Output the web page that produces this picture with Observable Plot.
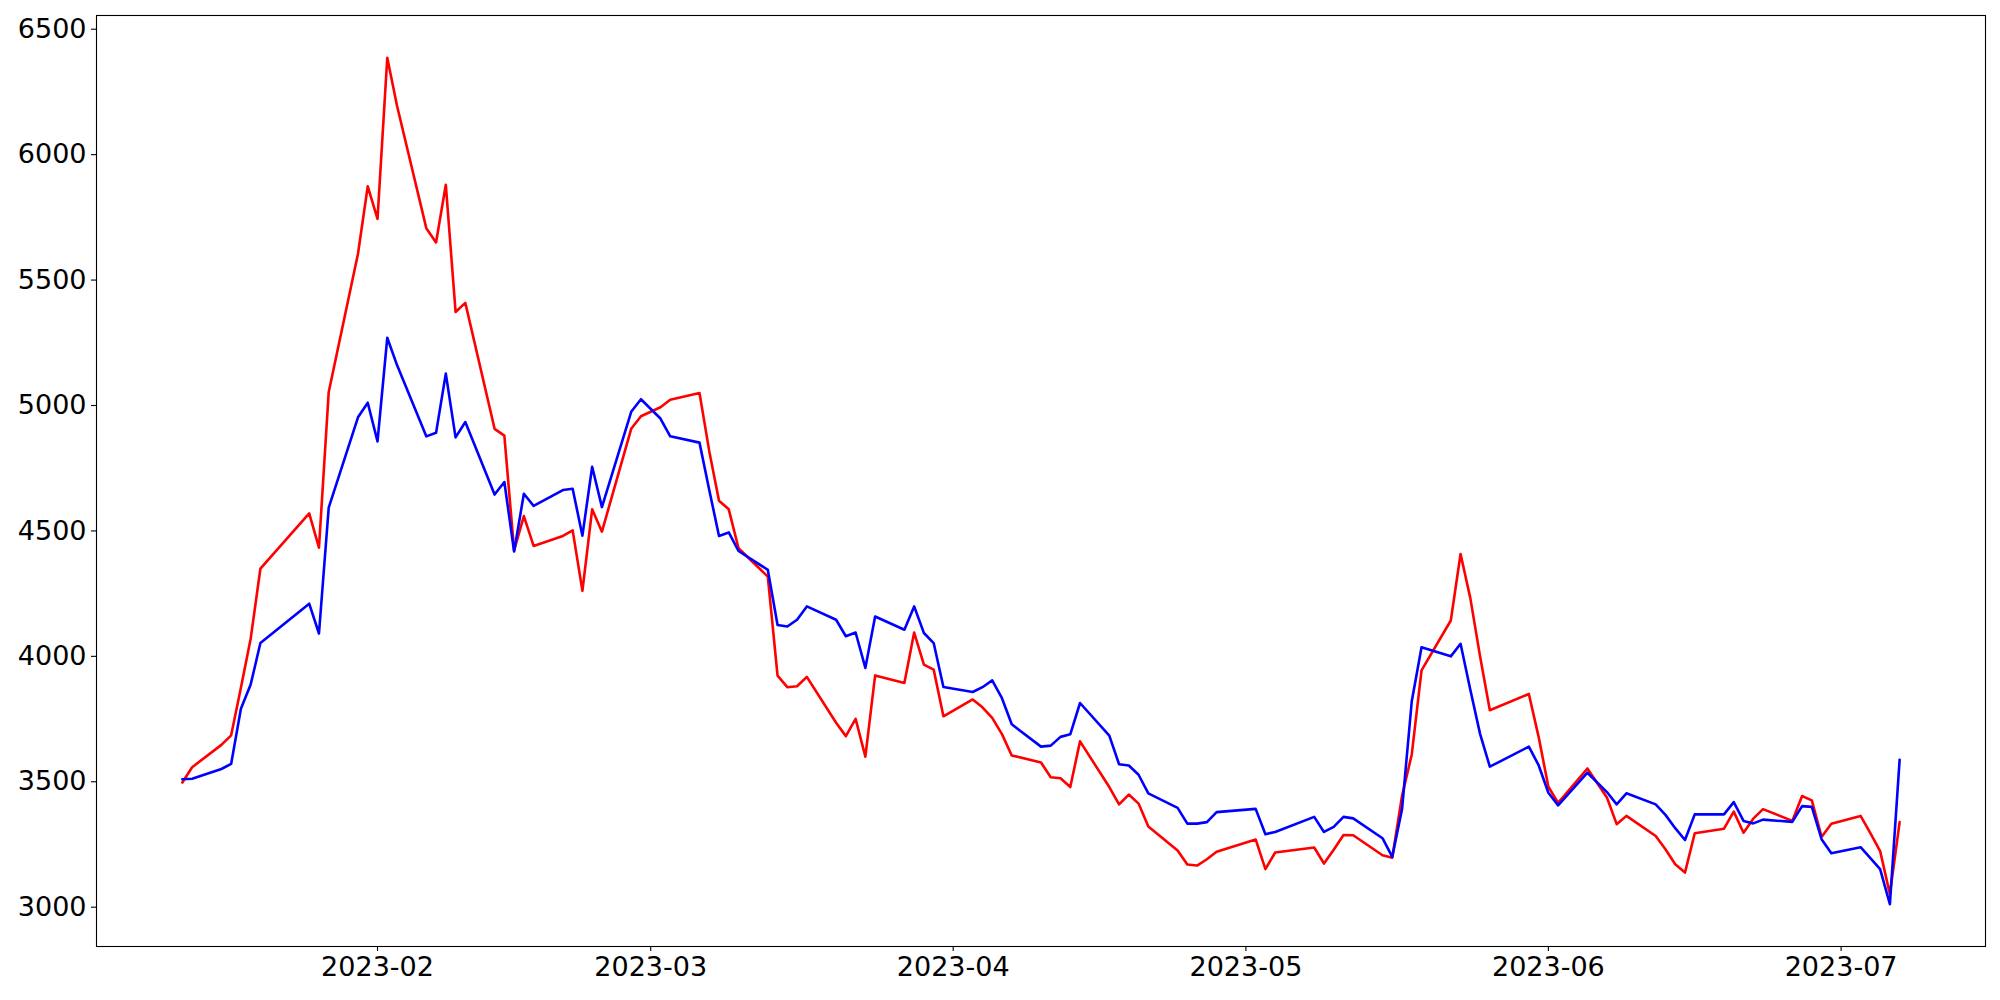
<!DOCTYPE html>
<html>
<head>
<meta charset="utf-8">
<script src="https://cdn.jsdelivr.net/npm/d3@7"></script>
<script src="https://cdn.jsdelivr.net/npm/@observablehq/plot@0.6"></script>
<style>
  html, body { margin: 0; padding: 0; background: #ffffff; }
  #chart svg { display: block; }
</style>
</head>
<body>
<div id="chart"></div>
<script>
// Trading dates (weekdays with market holidays omitted)
const dates = [
  "2023-01-12","2023-01-13","2023-01-16","2023-01-17","2023-01-18","2023-01-19","2023-01-20",
  "2023-01-25","2023-01-26","2023-01-27","2023-01-30","2023-01-31",
  "2023-02-01","2023-02-02","2023-02-03","2023-02-06","2023-02-07","2023-02-08","2023-02-09","2023-02-10",
  "2023-02-13","2023-02-14","2023-02-15","2023-02-16","2023-02-17","2023-02-20","2023-02-21","2023-02-22",
  "2023-02-23","2023-02-24","2023-02-27","2023-02-28",
  "2023-03-02","2023-03-03","2023-03-06","2023-03-07","2023-03-08","2023-03-09","2023-03-10",
  "2023-03-13","2023-03-14","2023-03-15","2023-03-16","2023-03-17","2023-03-20","2023-03-21","2023-03-22",
  "2023-03-23","2023-03-24","2023-03-27","2023-03-28","2023-03-29","2023-03-30","2023-03-31",
  "2023-04-03","2023-04-04","2023-04-05","2023-04-06","2023-04-07","2023-04-10","2023-04-11","2023-04-12",
  "2023-04-13","2023-04-14","2023-04-17","2023-04-18","2023-04-19","2023-04-20","2023-04-21",
  "2023-04-24","2023-04-25","2023-04-26","2023-04-27","2023-04-28",
  "2023-05-02","2023-05-03","2023-05-04","2023-05-08","2023-05-09","2023-05-10","2023-05-11","2023-05-12",
  "2023-05-15","2023-05-16","2023-05-17","2023-05-18","2023-05-19","2023-05-22","2023-05-23","2023-05-24",
  "2023-05-25","2023-05-26","2023-05-30","2023-05-31",
  "2023-06-01","2023-06-02","2023-06-05","2023-06-07","2023-06-08","2023-06-09","2023-06-12","2023-06-13",
  "2023-06-14","2023-06-15","2023-06-16","2023-06-19","2023-06-20","2023-06-21","2023-06-22","2023-06-23",
  "2023-06-26","2023-06-27","2023-06-28","2023-06-29","2023-06-30",
  "2023-07-03","2023-07-04","2023-07-05","2023-07-06","2023-07-07"
];

// Red series
const redValues = [
  3497,3558,3647,3685,3875,4070,4350,
  4570,4433,5054,5605,5874,
  5744,6386,6195,5707,5650,5880,5373,5409,
  4907,4880,4422,4559,4440,4480,4502,4261,
  4586,4497,4907,4957,
  4993,5023,5050,4818,4620,4586,4431,
  4318,3923,3877,3881,3918,3735,3682,3751,
  3600,3924,3894,4095,3967,3947,3761,
  3828,3797,3755,3690,3605,3577,3518,3514,
  3479,3661,3479,3410,3449,3413,3322,
  3226,3170,3166,3191,3221,
  3270,3152,3218,3238,3174,3229,3288,3287,
  3207,3197,3443,3609,3944,4143,4408,4232,
  4000,3785,3850,3679,
  3480,3416,3553,3437,3331,3364,3284,3231,
  3171,3138,3295,3313,3381,3297,3353,3391,
  3344,3443,3426,3280,3333,
  3364,3295,3224,3052,3339
];

// Blue series
const blueValues = [
  3510,3512,3551,3571,3791,3888,4053,
  4210,4091,4593,4953,5011,
  4857,5270,5161,4877,4891,5127,4873,4934,
  4645,4695,4418,4648,4600,4663,4668,4481,
  4756,4595,4975,5025,
  4948,4877,4852,4663,4480,4494,4420,
  4345,4125,4119,4146,4199,4146,4080,4095,
  3954,4159,4106,4199,4093,4053,3878,
  3858,3877,3904,3833,3729,3640,3644,3679,
  3689,3814,3684,3570,3565,3528,3454,
  3396,3333,3333,3339,3379,
  3392,3291,3300,3360,3300,3320,3360,3354,
  3275,3201,3390,3821,4036,4000,4050,3867,
  3691,3560,3640,3566,
  3456,3406,3536,3459,3410,3454,3410,3368,
  3315,3268,3370,3370,3419,3344,3334,3349,
  3340,3403,3400,3271,3215,
  3239,3196,3152,3012,3588
];

// Tick labels
const yTicks = [3000, 3500, 4000, 4500, 5000, 5500, 6000, 6500];
const xTicks = ["2023-02-01","2023-03-01","2023-04-01","2023-05-01","2023-06-01","2023-07-01"];

const parse = d3.utcParse("%Y-%m-%d");
const table = dates.map((d, i) => ({date: parse(d), red: redValues[i], blue: blueValues[i]}));

// matplotlib-style 5% auto margins on the scale domains
const xExt = d3.extent(table, d => d.date);
const xPad = (xExt[1] - xExt[0]) * 0.05;
const allVals = redValues.concat(blueValues);
const yExt = d3.extent(allVals);
const yPad = (yExt[1] - yExt[0]) * 0.05;

const chart = Plot.plot({
  width: 2000,
  height: 1000,
  marginLeft: 96,
  marginRight: 15,
  marginTop: 15,
  marginBottom: 54,
  style: {fontFamily: "'DejaVu Sans', sans-serif", fontSize: "27px", background: "#ffffff", color: "#000000"},
  x: {type: "utc", domain: [new Date(+xExt[0] - xPad), new Date(+xExt[1] + xPad)]},
  y: {domain: [yExt[0] - yPad, yExt[1] + yPad]},
  marks: [
    Plot.line(table, {x: "date", y: "red", stroke: "red", strokeWidth: 2.6, strokeLinejoin: "round"}),
    Plot.line(table, {x: "date", y: "blue", stroke: "blue", strokeWidth: 2.6, strokeLinejoin: "round"}),
    Plot.axisY({ticks: yTicks, tickFormat: d3.format("d"), tickSize: 5, tickPadding: 5, label: null, stroke: "#000", strokeWidth: 1.1}),
    Plot.axisX({ticks: xTicks.map(parse), tickFormat: d3.utcFormat("%Y-%m"), tickSize: 5, tickPadding: 5, label: null, stroke: "#000", strokeWidth: 1.1}),
    Plot.frame({stroke: "#000", strokeWidth: 1.1})
  ]
});
document.getElementById("chart").appendChild(chart);
</script>
</body>
</html>
